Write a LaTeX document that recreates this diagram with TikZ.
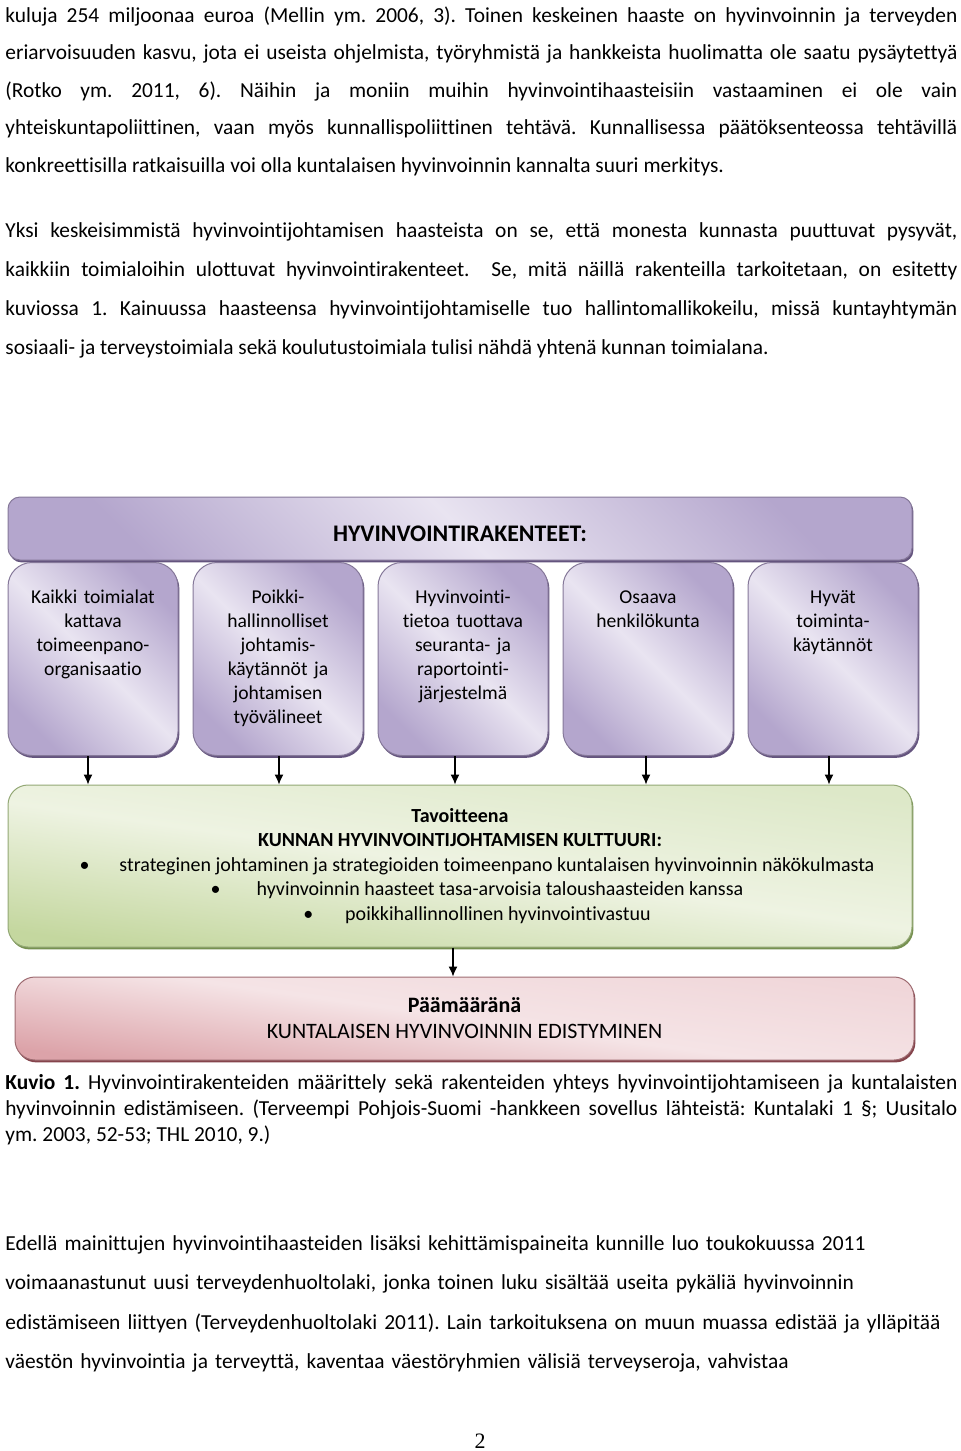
\documentclass[tikz,border=0pt]{standalone}
\usepackage{fontspec}
\setmainfont{Carlito}[Ligatures=NoCommon]
\newfontfamily\pagenumfont{Liberation Serif}
\usetikzlibrary{positioning, shadows, arrows.meta}

\definecolor{lilacLight}{HTML}{E9E4F1}
\definecolor{lilacDark}{HTML}{B4A6CD}
\definecolor{lilacEdge}{HTML}{5C4B77}
\definecolor{leafLight}{HTML}{EEF3E2}
\definecolor{leafMid}{HTML}{DDE8C8}
\definecolor{leafDark}{HTML}{C4D79F}
\definecolor{leafEdge}{HTML}{6F8B47}
\definecolor{roseLight}{HTML}{F5E4E6}
\definecolor{roseMid}{HTML}{F0D6D9}
\definecolor{roseDark}{HTML}{DCA3A9}
\definecolor{roseEdge}{HTML}{7E3A42}

\begin{document}
\frenchspacing
\tolerance=9999
\hyphenpenalty=10000
\begin{tikzpicture}[
         x=0.5pt, y=-0.5pt,
         bodytext/.style={anchor=base west, inner sep=0pt, text width=476pt, align=justify,
            font=\fontsize{10.7}{18.8}\selectfont},
         raggedtext/.style={bodytext, align=left, font=\fontsize{10.7}{19.8}\selectfont},
         captiontext/.style={bodytext, font=\fontsize{10.7}{13}\selectfont},
         shadebox/.style={draw=#1Edge!75, line width=0.5pt,
            drop shadow={shadow xshift=0.7pt, shadow yshift=-1.2pt, fill=#1Edge, opacity=0.95}},
         lilacbox/.style={shadebox=lilac, left color=lilacDark, right color=lilacDark,
            middle color=lilacLight, shading angle=135},
         leafbox/.style={shadebox=leaf, top color=leafMid, bottom color=leafDark,
            middle color=leafLight, shading angle=-8},
         rosebox/.style={shadebox=rose, top color=roseMid, bottom color=roseDark,
            middle color=roseLight, shading angle=-8},
         topbar/.style={lilacbox, rounded corners=6pt, minimum width=452pt, minimum height=31.5pt,
            inner sep=0pt, text height=12.5pt, text depth=0pt, font=\fontsize{11.9}{14}\selectfont\bfseries},
         structbox/.style={lilacbox, rounded corners=12pt, anchor=north, text width=75pt,
            inner xsep=5pt, inner ysep=9.5pt, text height=11pt, text depth=66.5pt, align=center,
            font=\fontsize{9.8}{12}\selectfont},
         goalbox/.style={leafbox, rounded corners=10pt, minimum width=452pt, minimum height=81pt,
            align=center, font=\fontsize{10}{12.25}\selectfont},
         aimbox/.style={rosebox, rounded corners=10pt, minimum width=449.5pt, minimum height=41.5pt,
            align=center, font=\fontsize{11}{13}\selectfont},
         flow/.style={-{Latex[length=5pt, width=4.5pt]}, line width=0.6pt}
      ]
         \useasboundingbox (0,0) rectangle (960,1451);

         % Text above the figure
         \node[bodytext] (para1) at (5,22) {kuluja 254 miljoonaa euroa (Mellin ym. 2006, 3). Toinen keskeinen haaste on hyvinvoinnin ja terveyden\linebreak
            eriarvoisuuden kasvu, jota ei useista ohjelmista, työryhmistä ja hankkeista huolimatta ole saatu pysäytettyä\linebreak
            (Rotko ym. 2011, 6). Näihin ja moniin muihin hyvinvointihaasteisiin vastaaminen ei ole vain\linebreak
            yhteiskuntapoliittinen, vaan myös kunnallispoliittinen tehtävä. Kunnallisessa päätöksenteossa tehtävillä\linebreak
            konkreettisilla ratkaisuilla voi olla kuntalaisen hyvinvoinnin kannalta suuri merkitys.};
         \node[bodytext, font=\fontsize{10.7}{19.6}\selectfont] (para2) at (5,237) {Yksi keskeisimmistä hyvinvointijohtamisen haasteista on se, että monesta kunnasta puuttuvat pysyvät,\linebreak
            kaikkiin toimialoihin ulottuvat hyvinvointirakenteet.~ Se, mitä näillä rakenteilla tarkoitetaan, on esitetty\linebreak
            kuviossa 1. Kainuussa haasteensa hyvinvointijohtamiselle tuo hallintomallikokeilu, missä kuntayhtymän\linebreak
            sosiaali- ja terveystoimiala sekä koulutustoimiala tulisi nähdä yhtenä kunnan toimialana.};

         % Structures
         \node[topbar] (bar) at (460,528.5) {HYVINVOINTIRAKENTEET:};
         \node[structbox] (s1) at (93,562) {Kaikki toimialat kattava toimeenpano-\\organisaatio};
         \node[structbox, right=7pt of s1] (s2) {Poikki-\\hallinnolliset johtamis-\\käytännöt ja johtamisen työvälineet};
         \node[structbox, right=7pt of s2] (s3) {Hyvinvointi-\\tietoa tuottava seuranta- ja raportointi-\\järjestelmä};
         \node[structbox, right=7pt of s3] (s4) {Osaava henkilökunta};
         \node[structbox, right=7pt of s4] (s5) {Hyvät\\toiminta-\\käytännöt};

         % Goal and aim
         \node[goalbox] (goal) at (460,866) {\textbf{Tavoitteena}\\
            \textbf{KUNNAN HYVINVOINTIJOHTAMISEN KULTTUURI:}\\
            \hspace*{17pt}\textbullet\hspace{15pt}strateginen johtaminen ja strategioiden toimeenpano kuntalaisen hyvinvoinnin näkökulmasta\\
            \hspace*{17pt}\textbullet\hspace{18pt}hyvinvoinnin haasteet tasa-arvoisia taloushaasteiden kanssa\\
            \hspace*{17pt}\textbullet\hspace{16pt}poikkihallinnollinen hyvinvointivastuu};
         \node[aimbox] (aim) at (464.5,1018.5) {\textbf{Päämääränä}\\KUNTALAISEN HYVINVOINNIN EDISTYMINEN};

         % Arrows
         \foreach \src/\dx in {s1/-2.5, s2/0.5, s3/-4, s4/-1, s5/-2}
            \draw[flow] ([xshift=\dx pt]\src.south) -- ([xshift=\dx pt]\src.south |- goal.north);
         \draw[flow] ([xshift=-3.5pt]goal.south) -- ([xshift=-3.5pt]goal.south |- aim.north);

         % Caption and following text
         \node[captiontext] (caption) at (5,1089) {\textbf{Kuvio 1.} Hyvinvointirakenteiden määrittely sekä rakenteiden yhteys hyvinvointijohtamiseen ja kuntalaisten\linebreak
            hyvinvoinnin edistämiseen. (Terveempi Pohjois-Suomi -hankkeen sovellus lähteistä: Kuntalaki 1 §; Uusitalo\linebreak
            ym. 2003, 52-53; THL 2010, 9.)};
         \node[raggedtext] (para3) at (5,1250) {Edellä mainittujen hyvinvointihaasteiden lisäksi kehittämispaineita kunnille luo toukokuussa 2011\\
            voimaanastunut uusi terveydenhuoltolaki, jonka toinen luku sisältää useita pykäliä hyvinvoinnin\\
            edistämiseen liittyen (Terveydenhuoltolaki 2011). Lain tarkoituksena on muun muassa edistää ja ylläpitää\\
            väestön hyvinvointia ja terveyttä, kaventaa väestöryhmien välisiä terveyseroja, vahvistaa};
         \node[anchor=base, inner sep=0pt, font=\pagenumfont\fontsize{11}{13}\selectfont] (pagenum) at (480,1448) {2};
      \end{tikzpicture}
\end{document}
